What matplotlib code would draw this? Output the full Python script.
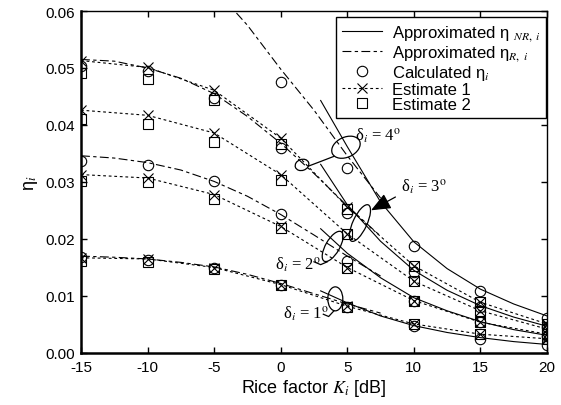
import numpy as np
import matplotlib
matplotlib.use("Agg")
import matplotlib.pyplot as plt
from matplotlib.patches import Ellipse
from matplotlib.lines import Line2D
from matplotlib.transforms import ScaledTranslation

plt.rcParams['font.family'] = ['Liberation Sans', 'DejaVu Sans']
plt.rcParams['mathtext.fontset'] = 'stix'
plt.rcParams['axes.unicode_minus'] = False

nan = np.nan
# ---- data ----
K = [-15, -10, -5, 0, 5, 10, 15, 20]

calc_d1 = [0.0168, 0.0163, 0.0150, 0.0120, 0.0080, 0.0047, 0.0025, 0.0014]
calc_d2 = [0.0337, 0.0330, 0.0301, 0.0243, 0.0162, 0.0092, 0.0054, 0.0029]
calc_d3 = [0.0504, 0.0494, 0.0447, 0.0360, 0.0245, 0.0142, 0.0081, 0.0045]
calc_d4 = [nan, nan, nan, 0.0476, 0.0325, 0.0188, 0.0108, 0.0061]

est1_d1 = [0.0167, 0.0165, 0.0150, 0.0120, 0.0082, 0.0051, 0.0033, 0.0025]
est1_d2 = [0.0313, 0.0307, 0.0278, 0.0222, 0.0150, 0.0092, 0.0054, 0.0033]
est1_d3 = [0.0426, 0.0417, 0.0386, 0.0313, 0.0209, 0.0126, 0.0074, 0.0042]
est1_d4 = [0.0513, 0.0501, 0.0461, 0.0377, 0.0256, 0.0153, 0.0089, 0.0051]

est2_d1 = [0.0161, 0.0159, 0.0147, 0.0119, 0.0081, 0.0051, 0.0033, 0.0025]
est2_d2 = [0.0302, 0.0300, 0.0270, 0.0220, 0.0149, 0.0092, 0.0054, 0.0033]
est2_d3 = [0.0411, 0.0402, 0.0371, 0.0304, 0.0208, 0.0126, 0.0074, 0.0042]
est2_d4 = [0.0491, 0.0480, 0.0443, 0.0367, 0.0253, 0.0153, 0.0089, 0.0051]

K_R = [-15, -12.5, -10, -7.5, -5, -2.5, 0, 2.5, 5, 7.5]
R_d1 = [0.0170, 0.0168, 0.0165, 0.0159, 0.0151, 0.0138, 0.0122, 0.0104, 0.0086, 0.0070]
R_d2 = [0.0346, 0.0342, 0.0334, 0.0321, 0.0301, 0.0275, 0.0243, 0.0207, 0.0170, 0.0135]
R_d3 = [0.0515, 0.0512, 0.0500, 0.0482, 0.0455, 0.0415, 0.0368, 0.0315, 0.0258, 0.0205]
R_d4 = [nan, nan, nan, nan, 0.0640, 0.0575, 0.0498, 0.0426, 0.0346, 0.0272]

K_NR = [3, 5, 7.5, 10, 12.5, 15, 17.5, 20]
NR_d1 = [0.0109, 0.0088, 0.0065, 0.0048, 0.0036, 0.0027, 0.0020, 0.0015]
NR_d2 = [0.0218, 0.0175, 0.0132, 0.0097, 0.0074, 0.0055, 0.0041, 0.0031]
NR_d3 = [0.0331, 0.0260, 0.0196, 0.0145, 0.0110, 0.0083, 0.0063, 0.0047]
NR_d4 = [0.0443, 0.0362, 0.0265, 0.0195, 0.0148, 0.0112, 0.0086, 0.0065]

xticks = [-15, -10, -5, 0, 5, 10, 15, 20]
yticks = [0.00, 0.01, 0.02, 0.03, 0.04, 0.05, 0.06]

# ---- figure ----
fig = plt.figure(figsize=(5.61, 4.06), dpi=100)
ax = fig.add_axes([81/561, 52/406, 466/561, 342/406])

lw = 0.8
dash_R = (0, (8, 3, 3, 3))
dot_E = (0, (2.5, 2.5))
for r in (R_d1, R_d2, R_d3, R_d4):
    ax.plot(K_R, r, color='k', lw=lw, linestyle=dash_R)
for nr in (NR_d1, NR_d2, NR_d3, NR_d4):
    ax.plot(K_NR, nr, color='k', lw=lw, linestyle='-')
for e in (est1_d1, est1_d2, est1_d3, est1_d4):
    ax.plot(K, e, color='k', lw=lw, linestyle=dot_E, marker='x', ms=6.5, mew=0.8)
for e in (est2_d1, est2_d2, est2_d3, est2_d4):
    ax.plot(K, e, color='none', marker='s', ms=7, mfc='none', mec='k', mew=0.8, linestyle='none')
for c in (calc_d1, calc_d2, calc_d3, calc_d4):
    ax.plot(K, c, color='none', marker='o', ms=7.5, mfc='none', mec='k', mew=0.8, linestyle='none')

ax.set_xlim(-15, 20)
ax.set_ylim(0, 0.06)
ax.set_xticks(xticks)
ax.set_yticks(yticks)
ax.set_yticklabels([f"{v:.2f}" for v in yticks])
ax.tick_params(direction='in', length=4, width=1, top=True, right=True, labelsize=11)
ax.tick_params(axis='x', pad=5)
ax.tick_params(axis='y', pad=4)
for s in ('left', 'bottom'):
    ax.spines[s].set_linewidth(1.8)
for s in ('top', 'right'):
    ax.spines[s].set_linewidth(1.0)

ax.set_xlabel('Rice factor $K_i$ [dB]', fontsize=13, labelpad=2)
ax.set_ylabel(r'η$_i$', fontsize=13, labelpad=4)

# ---- legend ----
handles = [
    Line2D([], [], color='k', lw=lw, linestyle='-'),
    Line2D([], [], color='k', lw=lw, linestyle=dash_R),
    Line2D([], [], color='none', marker='o', ms=7.5, mfc='none', mec='k', mew=0.8),
    Line2D([], [], color='k', lw=lw, linestyle=dot_E, marker='x', ms=6.5, mew=0.8),
    Line2D([], [], color='none', marker='s', ms=7, mfc='none', mec='k', mew=0.8),
]
labels = [r'Approximated η $_{NR,\ i}$', r'Approximated η$_{R,\ i}$',
          r'Calculated η$_i$', 'Estimate 1', 'Estimate 2']
leg = ax.legend(handles, labels, loc='upper right', bbox_to_anchor=(0.998, 0.982),
                fontsize=12, frameon=True, fancybox=False, framealpha=1,
                edgecolor='k', borderaxespad=0, handlelength=2.4, handletextpad=0.6,
                labelspacing=0.0, borderpad=0.35)
leg.get_frame().set_linewidth(1.0)

# ---- annotations ----
def ell(xd, yd, wpx, hpx, ang):
    tr = fig.dpi_scale_trans + ScaledTranslation(xd, yd, ax.transData)
    ax.add_patch(Ellipse((0, 0), wpx/100, hpx/100, angle=ang, transform=tr,
                         fill=False, lw=0.9, ec='k', clip_on=False))

tfont = dict(fontsize=12, color='k', family='Liberation Serif')
# delta 4
ax.text(5.6, 0.0382, r'δ$_i$ = 4$^{\rm o}$', ha='left', va='center', **tfont)
ell(4.9, 0.0361, 30, 20, 25)
ell(1.6, 0.0330, 14, 11, 20)
ax.plot([2.1, 3.0, 4.0], [0.0328, 0.0336, 0.0345], color='k', lw=0.9)
# delta 3
ax.text(9.0, 0.0292, r'δ$_i$ = 3$^{\rm o}$', ha='left', va='center', **tfont)
ax.annotate('', xy=(6.6, 0.0248), xytext=(8.8, 0.0276),
            arrowprops=dict(arrowstyle='-|>,head_length=1.2,head_width=0.5', color='k', lw=0.9))
ell(5.95, 0.0228, 14, 40, -25)
# delta 2
ax.text(-0.4, 0.0156, r'δ$_i$ = 2$^{\rm o}$', ha='left', va='center', **tfont)
ell(3.9, 0.0187, 14, 34, -30)
ax.plot([2.5, 3.0, 3.5], [0.0160, 0.0155, 0.0160], color='k', lw=0.9)
# delta 1
ax.text(0.2, 0.0070, r'δ$_i$ = 1$^{\rm o}$', ha='left', va='center', **tfont)
ell(4.1, 0.0095, 15, 24, 0)
ax.plot([3.2, 3.6, 4.0], [0.0068, 0.0064, 0.0074], color='k', lw=0.9)

fig.savefig('out.png', dpi=100)
